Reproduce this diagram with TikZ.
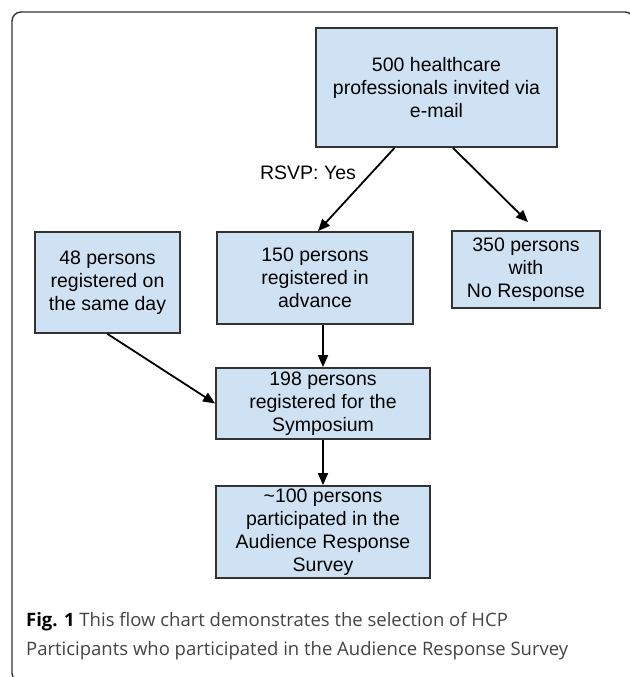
\documentclass[tikz,border=0pt]{standalone}
\usepackage{fontspec}
\setmainfont{Liberation Sans}
\newfontfamily\capfont{Open Sans}
\usetikzlibrary{arrows.meta,calc}
\definecolor{boxfill}{HTML}{CFE2F3}
\definecolor{boxline}{HTML}{333333}
\definecolor{capgray}{HTML}{444444}
\definecolor{framegray}{HTML}{333333}
\tikzset{
  flowbox/.style={draw=boxline, line width=1.8pt, fill=boxfill, align=center,
    inner sep=0pt, font=\fontsize{19.5}{23}\selectfont},
  arr/.style={line width=1.8pt, -{Triangle[length=12pt,width=10pt]}},
}
\begin{document}
\begin{tikzpicture}[x=1pt,y=-1pt]
\useasboundingbox (0,0) rectangle (629,677);
\fill[white] (0,0) rectangle (629,677);
\draw[framegray, line width=1.4pt, rounded corners=9pt] (12,12) rectangle (634,682);

\node[flowbox, minimum width=241pt, minimum height=119pt] (top) at (436.5,87.5)
  {500 healthcare\\professionals invited via\\e-mail};
\node[flowbox, minimum width=145pt, minimum height=101pt] (left) at (107.5,282.5)
  {48 persons\\registered on\\the same day};
\node[flowbox, minimum width=196pt, minimum height=92pt] (mid) at (315,278)
  {150 persons\\registered in\\advance};
\node[flowbox, minimum width=148pt, minimum height=77pt] (right) at (526,269.5)
  {350 persons\\with\\No Response};
\node[flowbox, minimum width=214pt, minimum height=71pt] (sym) at (323,403.5)
  {198 persons\\registered for the\\Symposium};
\node[flowbox, minimum width=214pt, minimum height=92pt] (aud) at (323,532)
  {\textasciitilde100 persons\\participated in the\\Audience Response\\Survey};

\node[font=\fontsize{19.5}{23}\selectfont, inner sep=0pt] (rsvp) at (308,173) {RSVP: Yes};

\draw[arr] ([xshift=-42pt]top.south) -- ([xshift=3pt]mid.north);
\draw[arr] ([xshift=16.5pt]top.south) -- ([xshift=2pt,yshift=8pt]right.north);
\draw[arr] (mid.south -| sym.north) -- (sym.north);
\draw[arr] (left.south) -- (sym.west);
\draw[arr] (sym.south) -- (aud.north);

\node[anchor=base west, inner sep=0pt, align=left, text=capgray,
  font=\capfont\fontsize{18.5}{29}\selectfont] (cap) at (26,655)
  {{\color{black}\bfseries Fig. 1} This flow chart demonstrates the selection of HCP\\
   Participants who participated in the Audience Response Survey};
\end{tikzpicture}
\end{document}
